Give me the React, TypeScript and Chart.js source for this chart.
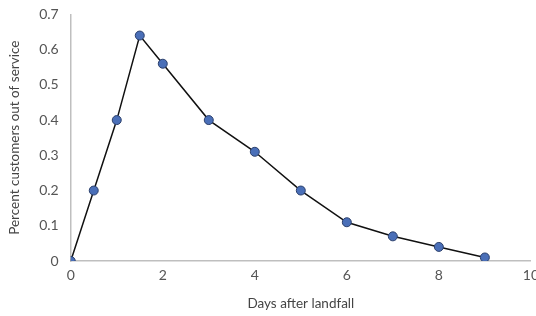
import React, { useEffect, useRef } from "react";
import { Chart, registerables } from "chart.js";

Chart.register(...registerables);

const days = [0, 0.5, 1, 1.5, 2, 3, 4, 5, 6, 7, 8, 9];
const percentOut = [0, 0.2, 0.4, 0.64, 0.56, 0.4, 0.31, 0.2, 0.11, 0.07, 0.04, 0.01];
const xTitle = "Days after landfall";
const yTitle = "Percent customers out of service";

export default function App() {
  const ref = useRef<HTMLCanvasElement>(null);
  useEffect(() => {
    if (!ref.current) return;
    const font = "Lato, 'Open Sans', sans-serif";
    const chart = new Chart(ref.current, {
      type: "scatter",
      data: {
        datasets: [
          {
            data: days.map((d, i) => ({ x: d, y: percentOut[i] })),
            showLine: true,
            borderColor: "#111111",
            borderWidth: 1.5,
            pointBackgroundColor: "#4a6fb8",
            pointBorderColor: "#2b3f6b",
            pointBorderWidth: 1,
            pointRadius: 4.5,
          },
        ],
      },
      options: {
        animation: false,
        responsive: false,
        maintainAspectRatio: false,
        layout: { padding: { top: 4, left: 3, right: 0, bottom: 1 } },
        plugins: { legend: { display: false }, tooltip: { enabled: false } },
        scales: {
          x: {
            type: "linear",
            min: 0,
            max: 10,
            ticks: { stepSize: 2, color: "#555", font: { family: font, size: 14 }, padding: 6 },
            grid: { display: false, drawTicks: false },
            border: { color: "#bfbfbf", width: 1.5 },
            title: { display: true, text: xTitle, color: "#444", font: { family: font, size: 13.5 }, padding: { top: 6 } },
          },
          y: {
            type: "linear",
            min: 0,
            max: 0.7,
            ticks: {
              stepSize: 0.1,
              color: "#555",
              font: { family: font, size: 14 },
              padding: 12,
              callback: (v: any) => (Math.round(Number(v) * 10) / 10).toString(),
            },
            grid: { display: false, drawTicks: false },
            border: { color: "#bfbfbf", width: 1.5 },
            title: { display: true, text: yTitle, color: "#444", font: { family: font, size: 13.5 }, padding: { bottom: 4 } },
          },
        },
      },
    });
    return () => chart.destroy();
  }, []);
  return (
    <div style={{ position: "fixed", left: 0, top: 0, width: 536, height: 316, overflow: "hidden", background: "#fff" }}>
      <canvas ref={ref} width={545} height={323} style={{ display: "block", marginTop: -6 }} />
    </div>
  );
}
